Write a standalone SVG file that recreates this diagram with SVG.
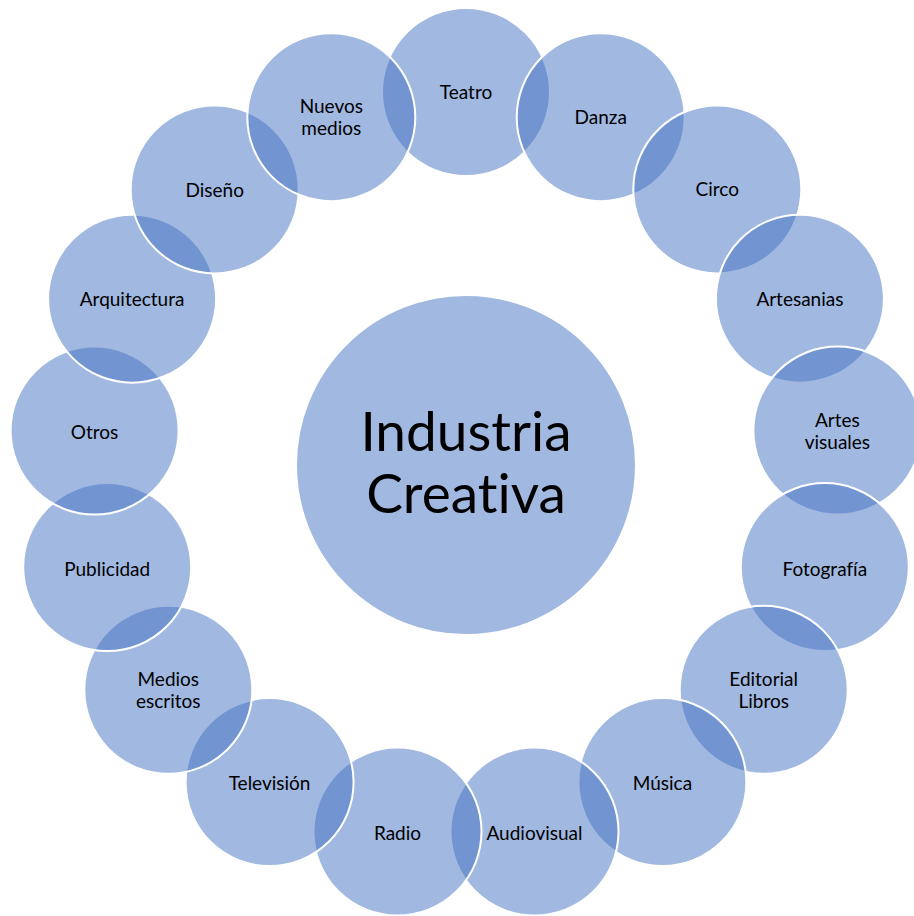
<svg xmlns="http://www.w3.org/2000/svg" width="914" height="916" viewBox="0 0 914 916">
  <style>
    .bub { fill: #4472C4; fill-opacity: 0.5; stroke: #FFFFFF; stroke-width: 2; }
    .lbl { font-family: Lato, "Open Sans", "Liberation Sans", sans-serif; font-size: 19px; fill: #000000; text-anchor: middle; font-variant-ligatures: none; }
    .hub { font-family: Lato, "Open Sans", "Liberation Sans", sans-serif; font-size: 55px; fill: #000000; text-anchor: middle; font-variant-ligatures: none; }
  </style>
  <rect width="914" height="916" fill="#FFFFFF"/>

  <!-- central node -->
  <g id="industria-creativa">
    <circle class="bub" cx="466" cy="465" r="170"/>
    <text class="hub" x="466" y="451">Industria</text>
    <text class="hub" x="466" y="513">Creativa</text>
  </g>

  <!-- ring of sectors, drawn clockwise from the top -->
  <g id="teatro"><circle class="bub" cx="466" cy="92" r="84"/><text class="lbl" x="466" y="99">Teatro</text></g>
  <g id="danza"><circle class="bub" cx="600.7" cy="117.2" r="84"/><text class="lbl" x="600.7" y="124">Danza</text></g>
  <g id="circo"><circle class="bub" cx="717.3" cy="189.4" r="84"/><text class="lbl" x="717.3" y="196">Circo</text></g>
  <g id="artesanias"><circle class="bub" cx="799.9" cy="298.7" r="84"/><text class="lbl" x="799.9" y="306">Artesanias</text></g>
  <g id="artes-visuales"><circle class="bub" cx="837.4" cy="430.6" r="84"/><text class="lbl" x="837.4" y="427">Artes</text><text class="lbl" x="837.4" y="449">visuales</text></g>
  <g id="fotografia"><circle class="bub" cx="824.8" cy="567.1" r="84"/><text class="lbl" x="824.8" y="576">Fotografía</text></g>
  <g id="editorial-libros"><circle class="bub" cx="763.7" cy="689.8" r="84"/><text class="lbl" x="763.7" y="686">Editorial</text><text class="lbl" x="763.7" y="708">Libros</text></g>
  <g id="musica"><circle class="bub" cx="662.4" cy="782.1" r="84"/><text class="lbl" x="662.4" y="790">Música</text></g>
  <g id="audiovisual"><circle class="bub" cx="534.5" cy="831.6" r="84"/><text class="lbl" x="534.5" y="840">Audiovisual</text></g>
  <g id="radio"><circle class="bub" cx="397.5" cy="831.6" r="84"/><text class="lbl" x="397.5" y="840">Radio</text></g>
  <g id="television"><circle class="bub" cx="269.6" cy="782.1" r="84"/><text class="lbl" x="269.6" y="790">Televisión</text></g>
  <g id="medios-escritos"><circle class="bub" cx="168.3" cy="689.8" r="84"/><text class="lbl" x="168.3" y="686">Medios</text><text class="lbl" x="168.3" y="708">escritos</text></g>
  <g id="publicidad"><circle class="bub" cx="107.2" cy="567.1" r="84"/><text class="lbl" x="107.2" y="576">Publicidad</text></g>
  <g id="otros"><circle class="bub" cx="94.6" cy="430.6" r="84"/><text class="lbl" x="94.6" y="439">Otros</text></g>
  <g id="arquitectura"><circle class="bub" cx="132.1" cy="298.7" r="84"/><text class="lbl" x="132.1" y="306">Arquitectura</text></g>
  <g id="diseno"><circle class="bub" cx="214.7" cy="189.4" r="84"/><text class="lbl" x="214.7" y="197">Diseño</text></g>
  <g id="nuevos-medios"><circle class="bub" cx="331.3" cy="117.2" r="84"/><text class="lbl" x="331.3" y="113">Nuevos</text><text class="lbl" x="331.3" y="135">medios</text></g>

  <!-- the cycle has no connector lines; overlaps join the nodes -->
  <g id="connectors"/>
</svg>
